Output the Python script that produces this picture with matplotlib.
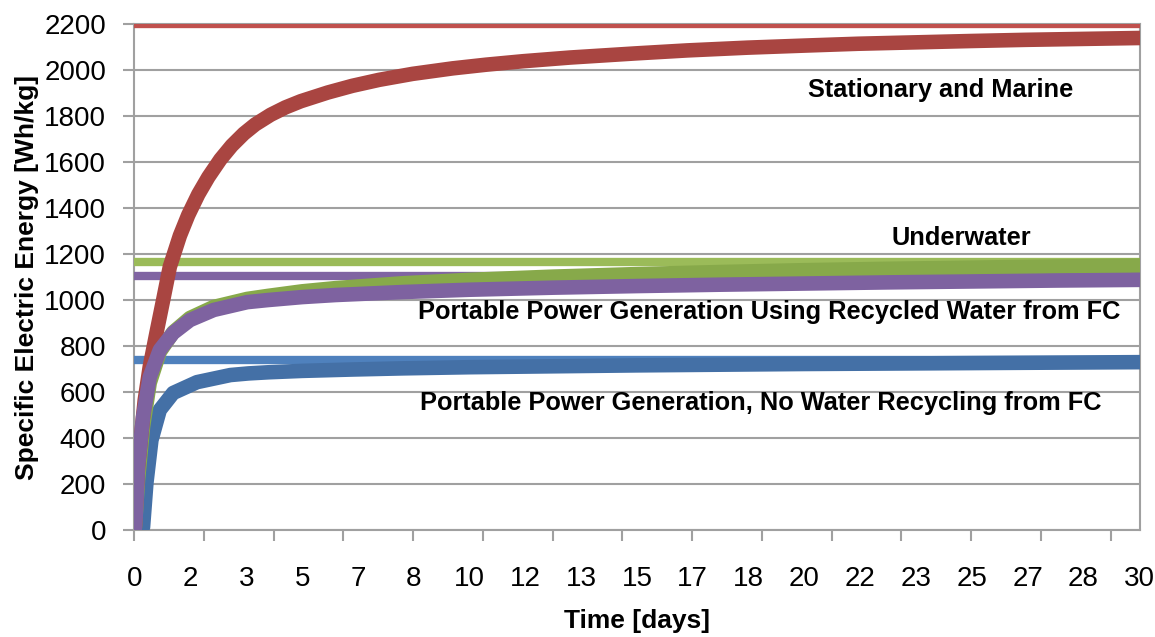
import matplotlib
matplotlib.use("Agg")
import matplotlib.pyplot as plt

# values (x in days)
days_red = [0, 0.1, 0.2, 0.3, 0.45, 0.65, 0.85, 1.05, 1.35, 1.6, 1.9, 2.2, 2.56, 2.9, 3.26, 3.6, 4.06, 4.5, 4.96, 5.77, 6.5, 7.3, 8.3, 9.5, 10.5, 11.6, 13, 14.96, 16.5, 18.3, 20, 21.6, 23.3, 25, 26.6, 28.3, 30]
red = [0, 275, 420, 565, 710, 857, 1000, 1145, 1280, 1370, 1460, 1535, 1612, 1672, 1724, 1764, 1806, 1838, 1865, 1903, 1932, 1958, 1984, 2008, 2024, 2039, 2055, 2073, 2086, 2098, 2107, 2115, 2121, 2127, 2132, 2136, 2140]

days_purple = [0, 0.03, 0.1, 0.25, 0.45, 0.75, 1.15, 1.65, 2.36, 3.36, 3.97, 5, 6, 8, 10, 12.5, 15, 17.5, 20, 22.5, 25, 27.5, 30]
purple = [0, 57, 275, 491, 665, 783, 857, 913, 957, 991, 1000, 1013, 1022, 1035, 1045, 1054, 1061, 1067, 1072, 1077, 1081, 1085, 1088]

days_green = [0, 0.1, 0.25, 0.45, 0.75, 1.15, 1.65, 2.36, 3.36, 3.97, 5, 6, 8, 10, 12.5, 15, 17.5, 20, 22.5, 25, 27.5, 30]
green = [0, 220, 450, 640, 775, 860, 922, 970, 1005, 1018, 1038, 1052, 1073, 1088, 1102, 1113, 1122, 1130, 1136, 1141, 1146, 1150]

days_blue = [0, 0.2, 0.25, 0.35, 0.5, 0.75, 1.15, 1.86, 2.86, 3.4, 4, 5, 6.5, 8, 10, 15, 20, 25, 30]
blue = [0, 0, 13, 204, 391, 522, 596, 643, 674, 681, 686, 692, 698, 703, 708, 716, 722, 726, 730]

max_red = 2200
max_green = 1167
max_purple = 1106
max_blue = 739

x_tick_labels = ["0", "2", "3", "5", "7", "8", "10", "12", "13", "15", "17", "18", "20", "22", "23", "25", "27", "28", "30"]

plt.rcParams['font.family'] = ['Liberation Sans', 'DejaVu Sans']

fig = plt.figure(figsize=(11.55, 6.37), dpi=100)
ax = fig.add_axes([0.116, 0.168, 0.871, 0.794])

x0 = -0.5 / 24
x1 = 720.5 / 24

# horizontal max lines
ax.plot([x0, x1], [max_red, max_red], color="#C0504D", lw=6, solid_capstyle="butt", zorder=3)
ax.plot([x0, x1], [max_green, max_green], color="#9BBB59", lw=6, solid_capstyle="butt", zorder=3)
ax.plot([x0, x1], [max_purple, max_purple], color="#8064A2", lw=6, solid_capstyle="butt", zorder=3)
ax.plot([x0, x1], [max_blue, max_blue], color="#4F81BD", lw=6, solid_capstyle="butt", zorder=3)

# rising curves
ax.plot(days_blue, blue, color="#4470A6", lw=10.5, solid_joinstyle="round", zorder=4)
ax.plot(days_green, green, color="#87A94A", lw=10.5, solid_joinstyle="round", zorder=5)
ax.plot(days_red, red, color="#A94541", lw=10.5, solid_joinstyle="round", zorder=6)
ax.plot(days_purple, purple, color="#7E62A0", lw=10.5, solid_joinstyle="round", zorder=7)

ax.set_xlim(x0, x1)
ax.set_ylim(0, 2200)
ax.set_yticks(range(0, 2201, 200))
ax.yaxis.grid(True, color="#A0A0A0", lw=1.5)
ax.set_axisbelow(True)

# tick marks every 50 hours, labels every 40 hours (Excel category axis)
ax.set_xticks([(-0.5 + 50 * k) / 24 for k in range(15)])
ax.set_xticklabels([])
ax.set_xticks([40 * k / 24 for k in range(19)], minor=True)
ax.set_xticklabels(x_tick_labels, minor=True)
ax.tick_params(axis="x", which="minor", length=0, pad=26, labelsize=20)
ax.tick_params(axis="x", which="major", length=8, width=1.5, color="#A0A0A0")
ax.tick_params(axis="y", length=8, width=1.5, color="#A0A0A0", labelsize=20, pad=12)

for s in ax.spines.values():
    s.set_color("#A0A0A0")
    s.set_linewidth(1.5)

ax.set_xlabel("Time [days]", fontsize=19, fontweight="bold", labelpad=12)
ax.set_ylabel("Specific Electric Energy [Wh/kg]", fontsize=19, fontweight="bold", labelpad=4)

ax.text(24.07, 1913, "Stationary and Marine", fontsize=18.3, fontweight="bold", ha="center", va="center")
ax.text(24.7, 1270, "Underwater", fontsize=18.3, fontweight="bold", ha="center", va="center")
ax.text(18.94, 948, "Portable Power Generation Using Recycled Water from FC", fontsize=18.3, fontweight="bold", ha="center", va="center")
ax.text(18.7, 552, "Portable Power Generation, No Water Recycling from FC", fontsize=18.3, fontweight="bold", ha="center", va="center")

fig.savefig("out.png", dpi=100)
